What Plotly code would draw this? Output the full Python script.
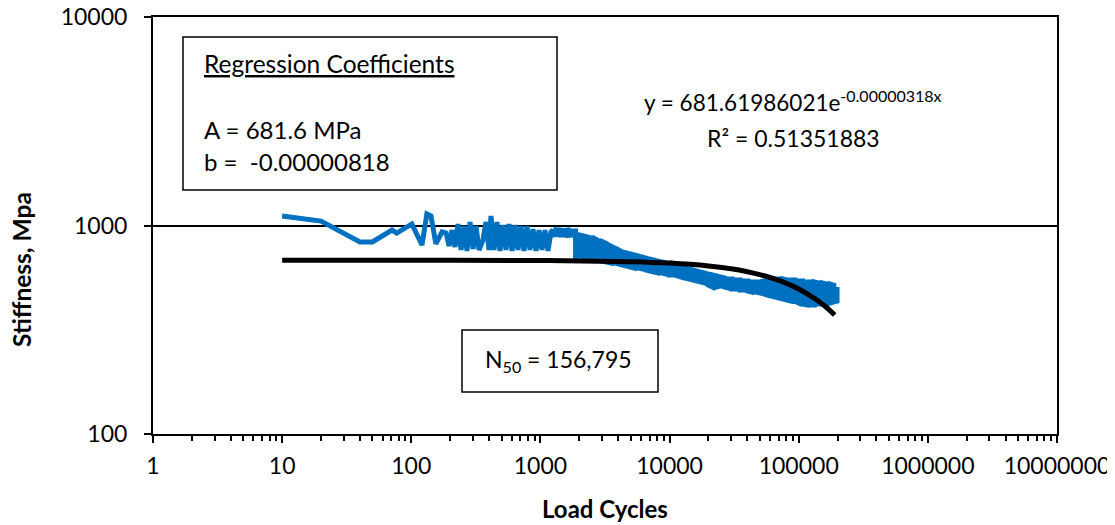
import plotly.graph_objects as go

# ---- data ----
# early part + strongly oscillating part (single readings)
cycles_a = [10, 20, 40, 50, 71, 77, 101, 121, 132, 142, 155, 173, 186, 196, 207, 218, 230, 243, 256, 270,
            285, 301, 317, 335, 359, 379, 400, 414, 437, 461, 486, 513, 541, 571, 603, 635, 670, 707, 746, 787,
            830, 876, 925, 975, 1029, 1085, 1145, 1207]
stiff_a = [1111, 1050, 834, 834, 951, 920, 1017, 806, 1136, 1111, 816, 931, 920, 797, 951, 789, 1017, 763, 995, 755,
           1039, 772, 995, 763, 852, 1039, 763, 1111, 763, 1039, 755, 1006, 763, 1017, 755, 1006, 763, 995, 755, 995,
           763, 962, 755, 951, 763, 951, 755, 931]

# dense part: range of stiffness readings (high / low) at each cycle count
cycles_b = [1250, 1320, 1420, 1520, 1630, 1750, 1870, 2000, 2150, 2310, 2480, 2660, 2850, 3050, 3270, 3510, 3760,
            4030, 4320, 4640, 4980, 5340, 5720, 6130, 6580, 7050, 7560, 8110, 8700, 9330, 10000, 10700, 11500,
            12300, 13200, 14200, 15200, 16300, 17500, 18700, 20000, 21500, 23100, 24800, 26600, 28500, 30500,
            32700, 35100, 37600, 40300, 43200, 46400, 49800, 53400, 57200, 61300, 65800, 70500, 75600, 81100,
            87000, 93300, 100000, 107000, 115000, 123000, 132000, 142000, 152000, 163000, 175000, 187000, 198000]
stiff_b_hi = [951, 955, 951, 946, 951, 940, 940, 900, 890, 881, 871, 862, 843, 834, 816, 797, 780, 763, 746, 738,
              730, 722, 714, 706, 698, 690, 683, 675, 668, 661, 654, 654, 639, 632, 625, 619, 612, 605, 598, 592,
              585, 579, 573, 566, 560, 554, 554, 548, 548, 542, 542, 536, 536, 536, 542, 548, 554, 554, 554, 554,
              548, 548, 548, 542, 542, 536, 536, 536, 530, 530, 524, 524, 518, 507]
stiff_b_lo = [900, 905, 900, 900, 895, 900, 698, 714, 706, 706, 698, 690, 683, 675, 668, 661, 661, 654, 646, 639,
              632, 625, 625, 619, 612, 605, 598, 592, 592, 585, 579, 579, 573, 566, 560, 554, 548, 542, 536, 530,
              518, 507, 507, 512, 507, 501, 496, 496, 490, 490, 485, 480, 480, 475, 470, 464, 459, 454, 449, 444,
              439, 434, 434, 425, 420, 416, 416, 416, 420, 420, 420, 425, 430, 434]

# exponential trend line  y = 681.61986021 e^(-0.00000318 x)
trend_cycles = [10, 100, 1000, 5000, 10000, 20000, 30000, 40000, 50000, 60000, 70000, 80000, 90000,
                100000, 120000, 140000, 160000, 180000, 190000]
trend_stiff = [681.6, 681.4, 679.4, 670.8, 660.3, 639.6, 619.6, 600.2, 581.4, 563.2, 545.6, 528.5, 512.0,
               495.9, 465.4, 436.7, 409.8, 384.5, 372.5]

x_tickvals = [1, 10, 100, 1000, 10000, 100000, 1000000, 10000000]
x_ticktext = ["1", "10", "100", "1000", "10000", "100000", "1000000", "10000000"]
y_tickvals = [100, 1000, 10000]
y_ticktext = ["100", "1000", "10000"]

# ---- build the measured path ----
xs = list(cycles_a)
ys = list(stiff_a)
for i, (c, h, l) in enumerate(zip(cycles_b, stiff_b_hi, stiff_b_lo)):
    xs += [c, c]
    ys += [h, l] if i % 2 == 0 else [l, h]

FONT = "Lato"
BLUE = "#0070C0"

fig = go.Figure()
fig.add_trace(go.Scatter(x=xs, y=ys, mode="lines",
                         line=dict(color=BLUE, width=5), hoverinfo="skip", showlegend=False))
fig.add_trace(go.Scatter(x=trend_cycles, y=trend_stiff, mode="lines",
                         line=dict(color="black", width=5, shape="spline"), showlegend=False))

minor_x = [m * 10 ** k for k in range(7) for m in range(2, 10)]

# the page places the figure ~8px from the top-left corner; compensate
fig.update_layout(
    width=1107, height=517,
    margin=dict(l=145, r=58, t=9, b=91, autoexpand=False),
    paper_bgcolor="white", plot_bgcolor="white",
    font=dict(family=FONT, size=23, color="black"),
    xaxis=dict(type="log", range=[0, 7], tickmode="array", tickvals=x_tickvals, ticktext=x_ticktext,
               automargin=False, ticklabeloverflow="allow",
               showline=True, linecolor="black", linewidth=2, mirror=True,
               ticks="outside", ticklen=7, tickwidth=2, tickcolor="black",
               ticklabelstandoff=3, showgrid=False, zeroline=False,
               minor=dict(tickmode="array", tickvals=minor_x, ticks="outside", ticklen=5,
                          tickwidth=1.5, tickcolor="black", showgrid=False),
               tickfont=dict(family=FONT, size=23)),
    yaxis=dict(type="log", range=[2, 4], tickmode="array", tickvals=y_tickvals, ticktext=y_ticktext,
               automargin=False, ticklabeloverflow="allow",
               showline=True, linecolor="black", linewidth=2, mirror=True,
               ticks="outside", ticklen=7, tickwidth=2, tickcolor="black",
               ticklabelstandoff=12, showgrid=True, gridcolor="black", gridwidth=1.5, zeroline=False,
               tickfont=dict(family=FONT, size=23)),
)

def px_x(p):
    return (p - 153) / 904.0

def px_y(p):
    return (434 - p) / 417.0

# boxes
fig.add_shape(type="rect", xref="paper", yref="paper",
              x0=px_x(183), x1=px_x(557), y0=px_y(190), y1=px_y(37),
              line=dict(color="black", width=1.5), fillcolor="white", layer="above")
fig.add_shape(type="rect", xref="paper", yref="paper",
              x0=px_x(462), x1=px_x(658), y0=px_y(392), y1=px_y(330),
              line=dict(color="black", width=1.5), fillcolor="white", layer="above")

def note(text, x, y, xanchor="left", size=24, bold=False, angle=0):
    fig.add_annotation(text=text, xref="paper", yref="paper", x=x, y=y, xanchor=xanchor,
                       yanchor="middle", showarrow=False, textangle=angle,
                       font=dict(family=FONT, size=size, color="black",
                                 weight="bold" if bold else "normal"))

note("<u>Regression Coefficients</u>", px_x(202), px_y(64), size=24.5)
note("A = 681.6 MPa", px_x(202), px_y(130))
note("b =\u00a0 -0.00000818", px_x(202), px_y(162))
note("y = 681.61986021e<sup><span style='font-size:16px'>-0.00000318x</span></sup>",
     px_x(793), px_y(101), xanchor="center", size=22.5)
note("R² = 0.51351883", px_x(793), px_y(138), xanchor="center", size=23)
note("N<sub>50</sub> = 156,795", px_x(483), px_y(360), size=23)
note("Load Cycles", px_x(605), px_y(508), xanchor="center", size=24, bold=True)
note("Stiffness, Mpa", px_x(21), px_y(270), xanchor="center", size=24.5, bold=True, angle=-90)

fig.write_html("out.html")
